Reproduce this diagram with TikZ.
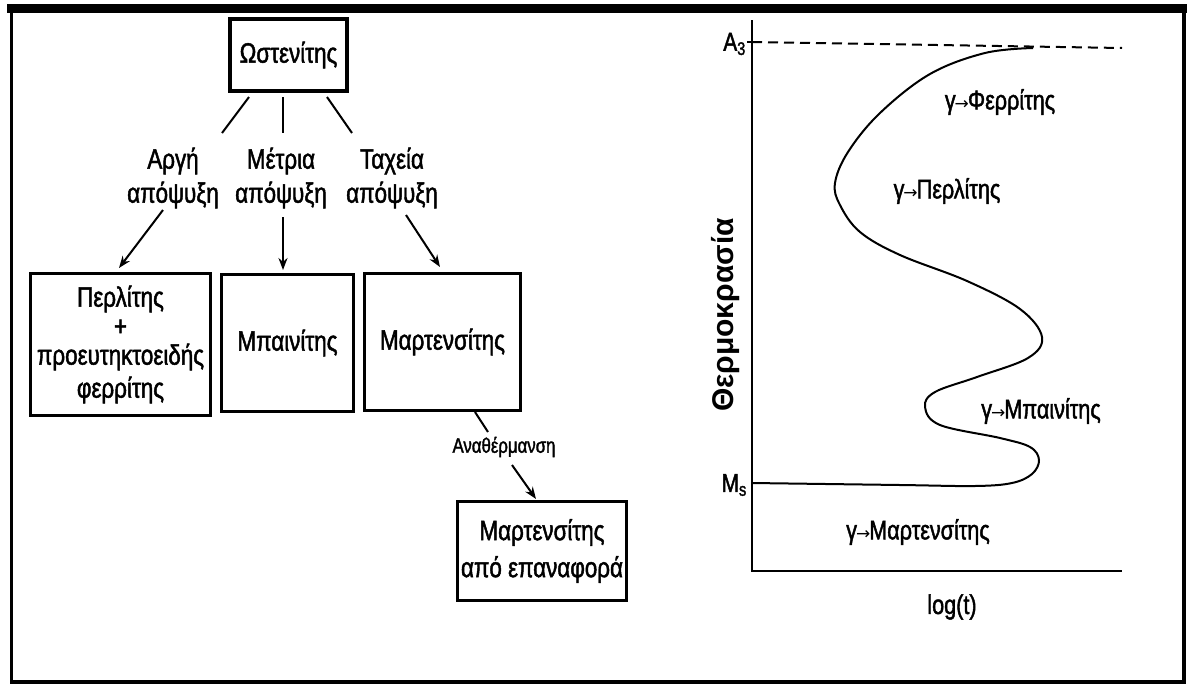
\documentclass[tikz,border=0pt]{standalone}
\usepackage{fontspec}
\setmainfont{Liberation Sans}[FakeStretch=0.8, FakeBold=1.6]
\newfontfamily\axisfont{Liberation Sans}
\newfontfamily\arrowfont{DejaVu Sans}
\newcommand{\gar}{{\arrowfont\fontsize{17}{20}\selectfont\kern-1pt→\kern-1pt}}
\usetikzlibrary{arrows.meta}

\begin{document}
\begin{tikzpicture}[x=1pt, y=-1pt,
  box/.style={draw, line width=3.5pt, align=center, inner sep=0pt, font=\fontsize{28}{29}\selectfont},
  cool/.style={align=center, inner sep=0pt, font=\fontsize{28}{34}\selectfont},
  phase/.style={inner sep=0pt, font=\fontsize{27}{30}\selectfont},
  conn/.style={line width=2pt},
  arr/.style={line width=2pt, -{Stealth[length=12pt,width=9pt]}}]
\useasboundingbox (0,0) rectangle (1187,686);
% frame
\fill (7,4) rectangle (1187,13);
\draw[line width=3.5pt] (11.5,4) -- (11.5,682) -- (1184,682) -- (1184,4);

% cooling tree
\node[box, minimum width=117, minimum height=72] (aus) at (288.5,55) {Ωστενίτης};
\node[cool] (slow) at (173,178) {Αργή\\απόψυξη};
\node[cool] (med) at (281,178) {Μέτρια\\απόψυξη};
\node[cool] (fast) at (392,178) {Ταχεία\\απόψυξη};
\node[box, minimum width=180, minimum height=142] (perl) at (120.5,344.5)
  {Περλίτης\\+\\προευτηκτοειδής\\[4pt]φερρίτης};
\node[box, minimum width=132, minimum height=137] (bain) at (287.5,343) {Μπαινίτης};
\node[box, minimum width=156, minimum height=137] (mart) at (442.5,342) {Μαρτενσίτης};
\node[inner sep=0pt, font=\fontsize{21}{24}\selectfont] (reheat) at (504,447) {Αναθέρμανση};
\node[box, font=\fontsize{28}{37}\selectfont, minimum width=169, minimum height=99] (temp) at (542,551)
  {Μαρτενσίτης\\από επαναφορά};

\draw[conn] ([shift={(-39.5,42)}]aus.center) -- ([shift={(49,-45)}]slow.center);
\draw[conn] ([shift={(-5.5,42)}]aus.center) -- ([shift={(2,-45)}]med.center);
\draw[conn] ([shift={(38.5,42)}]aus.center) -- ([shift={(-40,-45)}]fast.center);
\draw[arr] ([shift={(-10,32)}]slow.center) -- ([shift={(-1.5,-76.5)}]perl.center);
\draw[arr] ([shift={(2,39)}]med.center) -- ([shift={(-4.5,-73)}]bain.center);
\draw[arr] ([shift={(14,37)}]fast.center) -- ([shift={(-2.5,-75)}]mart.center);
\draw[conn] ([shift={(32.5,70)}]mart.center) -- ([shift={(-16,-15)}]reheat.center);
\draw[arr] ([shift={(8,18)}]reheat.center) -- ([shift={(-6,-52)}]temp.center);

% TTT diagram
\coordinate (O) at (752,571);
\coordinate (ytop) at (752,20);
\coordinate (xend) at (1122,571);
\coordinate (a3) at (752,42);
\coordinate (ms) at (752,483);
\draw[line width=2.5pt] (ytop) -- (O) -- (xend);
\draw[line width=2pt] (a3) -- ++(-5,0);
\draw[line width=2pt, dash pattern=on 10pt off 6pt] (a3) -- (1122,48);
\draw[line width=2pt] plot[smooth, tension=0.6] coordinates {(ms) (900,485) (975,486) (1012,483)
  (1032,474) (1039,460) (1030,447) (1000,438) (940,425) (925,407) (935,392) (977,377) (1028,358)
  (1042,337) (1020,309) (967,281) (900,255) (860,232) (840,205) (835,183) (848,152) (880,113)
  (930,74) (985,53) (1033,48)};
\node[anchor=east, inner sep=0pt, font=\fontsize{26}{28}\selectfont] (a3lbl) at (746,44) {A\textsubscript{3}};
\node[anchor=east, inner sep=0pt, font=\fontsize{26}{28}\selectfont] (mslbl) at (747,485) {M\textsubscript{s}};
\node[phase] (ferr) at (1000,102) {γ\gar Φερρίτης};
\node[phase] (pearl) at (947,191) {γ\gar Περλίτης};
\node[phase] (bainph) at (1041,411) {γ\gar Μπαινίτης};
\node[phase] (martph) at (918,532) {γ\gar Μαρτενσίτης};
\node[inner sep=0pt, font=\fontsize{27}{30}\selectfont] (logt) at (952,607) {log(t)};
\node[inner sep=0pt, rotate=90, font=\axisfont\bfseries\fontsize{30}{32}\selectfont] (temper) at (726,315) {Θερμοκρασία};
\end{tikzpicture}
\end{document}
